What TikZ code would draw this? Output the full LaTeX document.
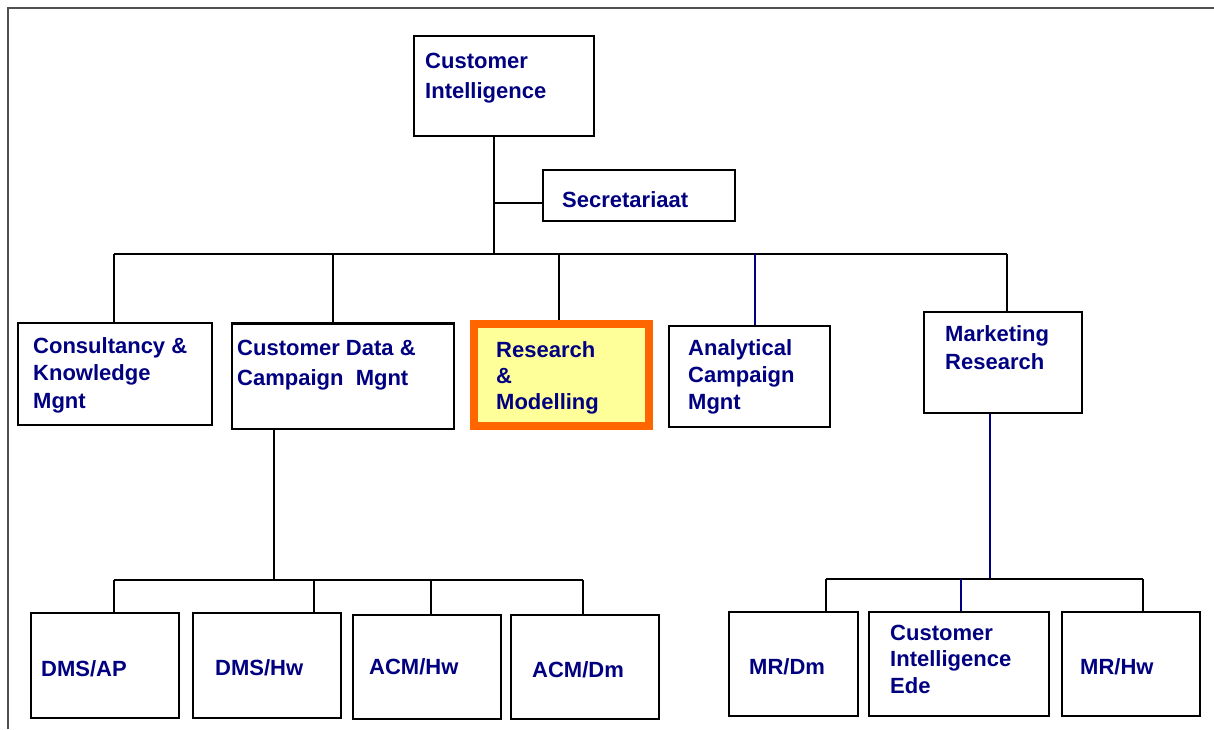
\documentclass[tikz,border=0pt]{standalone}
\usepackage{fontspec}
\setmainfont{Liberation Sans}
\usetikzlibrary{calc}
\definecolor{navytxt}{RGB}{0,0,128}
\definecolor{framegray}{RGB}{80,80,80}
\definecolor{rmorange}{RGB}{255,102,0}
\definecolor{rmyellow}{RGB}{255,255,153}
\tikzset{
  box/.style={draw=black, line width=1.6pt, fill=white, inner sep=0pt, rectangle},
  hlbox/.style={draw=rmorange, line width=8pt, fill=rmyellow, inner sep=0pt, rectangle},
  txt/.style={text=navytxt, font=\bfseries\fontsize{22}{27}\selectfont, align=left, inner sep=0pt, anchor=base west},
  conn/.style={draw=black, line width=1.3pt},
  bconn/.style={draw=navytxt, line width=1.3pt},
}
\begin{document}
\begin{tikzpicture}[x=1pt,y=-1pt]
\useasboundingbox (0,0) rectangle (1214,729);
\draw[framegray, line width=2.5pt] (8,729) -- (8,8) -- (1214,8);

% boxes
\node[box, minimum width=180pt, minimum height=100pt] (ci) at (504,86) {};
\node[box, minimum width=192pt, minimum height=51pt] (sec) at (639,195.5) {};
\node[box, minimum width=194pt, minimum height=102pt] (ckm) at (115,374) {};
\node[box, minimum width=222pt, minimum height=105pt] (cdcm) at (343,376.5) {};
\node[hlbox, minimum width=175pt, minimum height=102pt] (rm) at (561.5,375) {};
\node[box, minimum width=161pt, minimum height=101pt] (acm) at (749.5,376.5) {};
\node[box, minimum width=158pt, minimum height=101pt] (mr) at (1003,362.5) {};
\node[box, minimum width=148pt, minimum height=105pt] (dmsap) at (105,665.5) {};
\node[box, minimum width=148pt, minimum height=105pt] (dmshw) at (267,665.5) {};
\node[box, minimum width=148pt, minimum height=104pt] (acmhw) at (427,667) {};
\node[box, minimum width=148pt, minimum height=104pt] (acmdm) at (585,667) {};
\node[box, minimum width=129pt, minimum height=104pt] (mrdm) at (793.5,664) {};
\node[box, minimum width=180pt, minimum height=104pt] (ciede) at (959,664) {};
\node[box, minimum width=138pt, minimum height=104pt] (mrhw) at (1131,664) {};
\draw[line width=3pt] (cdcm.north west) -- (cdcm.north east);

% junction coordinates
\coordinate (top) at (494,254);
\coordinate (secj) at (494,203);
\coordinate (d1) at (114,254);
\coordinate (d2) at (333,254);
\coordinate (d3) at (559,254);
\coordinate (d4) at (755,254);
\coordinate (d5) at (1007,254);
\coordinate (v1) at (274,580);
\coordinate (e1) at (114,580);
\coordinate (e2) at (314,580);
\coordinate (e3) at (431,580);
\coordinate (e4) at (583,580);
\coordinate (w1) at (990,579);
\coordinate (f1) at (826,579);
\coordinate (f2) at (961,579);
\coordinate (f3) at (1143,579);

% connectors
\draw[conn] (ci.south -| top) -- (top);
\draw[conn] (secj) -- (secj -| sec.west);
\draw[conn] (d1) -- (d5);
\draw[conn] (d1) -- (d1 |- ckm.north);
\draw[conn] (d2) -- (d2 |- cdcm.north);
\draw[conn] (d3) -- (d3 |- rm.north);
\draw[bconn] (d4) -- (d4 |- acm.north);
\draw[conn] (d5) -- (d5 |- mr.north);

\draw[conn] (cdcm.south -| v1) -- (v1);
\draw[conn] (e1) -- (e4);
\draw[conn] (e1) -- (e1 |- dmsap.north);
\draw[conn] (e2) -- (e2 |- dmshw.north);
\draw[conn] (e3) -- (e3 |- acmhw.north);
\draw[conn] (e4) -- (e4 |- acmdm.north);

\draw[bconn] (mr.south -| w1) -- (w1);
\draw[conn] (f1) -- (f3);
\draw[conn] (f1) -- (f1 |- mrdm.north);
\draw[bconn] (f2) -- (f2 |- ciede.north);
\draw[conn] (f3) -- (f3 |- mrhw.north);

% texts (anchor = baseline of the last line)
\node[txt, font=\bfseries\fontsize{22}{30}\selectfont] (ci-t) at (425,98) {Customer\\Intelligence};
\node[txt] (sec-t) at (562,207) {Secretariaat};
\node[txt, font=\bfseries\fontsize{22}{27.5}\selectfont] (ckm-t) at (33,408) {Consultancy \&\\Knowledge\\Mgnt};
\node[txt, font=\bfseries\fontsize{22}{30}\selectfont] (cdcm-t) at (237,385) {Customer Data \&\\Campaign~ Mgnt};
\node[txt, font=\bfseries\fontsize{22}{26}\selectfont] (rm-t) at (496,409) {Research\\\&\\Modelling};
\node[txt] (acm-t) at (688,409) {Analytical\\Campaign\\Mgnt};
\node[txt, font=\bfseries\fontsize{22}{28}\selectfont] (mr-t) at (945,369) {Marketing\\Research};
\node[txt] (dmsap-t) at (41,676) {DMS/AP};
\node[txt] (dmshw-t) at (215,675) {DMS/Hw};
\node[txt] (acmhw-t) at (369,674) {ACM/Hw};
\node[txt] (acmdm-t) at (532,677) {ACM/Dm};
\node[txt] (mrdm-t) at (749,674) {MR/Dm};
\node[txt, font=\bfseries\fontsize{22}{26.5}\selectfont] (ciede-t) at (890,693) {Customer\\Intelligence\\Ede};
\node[txt] (mrhw-t) at (1080,674) {MR/Hw};
\end{tikzpicture}
\end{document}
